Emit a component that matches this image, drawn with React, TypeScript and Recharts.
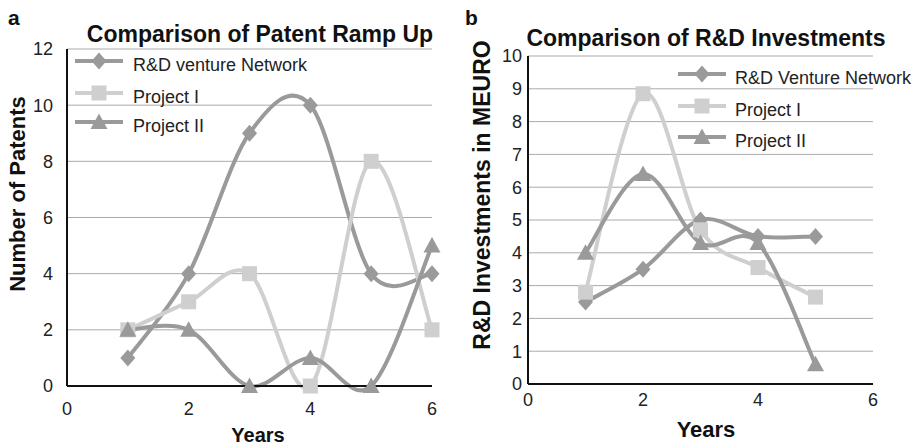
import React from 'react';
import { LineChart, Line, XAxis, YAxis, CartesianGrid } from 'recharts';

// values
const patentYears = [1, 2, 3, 4, 5, 6];
const patentNetwork = [1, 4, 9, 10, 4, 4];
const patentProject1 = [2, 3, 4, 0, 8, 2];
const patentProject2 = [2, 2, 0, 1, 0, 5];

const investYears = [1, 2, 3, 4, 5];
const investNetwork = [2.5, 3.5, 5, 4.5, 4.5];
const investProject1 = [2.8, 8.85, 4.7, 3.55, 2.65];
const investProject2 = [4, 6.4, 4.3, 4.3, 0.6];

const xTicks = [0, 2, 4, 6];
const patentTicks = [0, 2, 4, 6, 8, 10, 12];
const investTicks = [0, 1, 2, 3, 4, 5, 6, 7, 8, 9, 10];

const DARK = '#9a9a9a';
const LIGHT = '#cfcfcf';
const FONT = '"Liberation Sans", Arial, Helvetica, sans-serif';

const patentData = patentYears.map((x, i) => ({ x, network: patentNetwork[i], p1: patentProject1[i], p2: patentProject2[i] }));
const investData = investYears.map((x, i) => ({ x, network: investNetwork[i], p1: investProject1[i], p2: investProject2[i] }));

// Excel-like smoothing (Catmull-Rom through the points)
function smoothCurve(context: any) {
  let pts: number[][] = [];
  return {
    areaStart() {},
    areaEnd() {},
    lineStart() { pts = []; },
    point(x: number, y: number) { pts.push([+x, +y]); },
    lineEnd() {
      const n = pts.length;
      if (!n) return;
      context.moveTo(pts[0][0], pts[0][1]);
      for (let i = 0; i < n - 1; i++) {
        const p0 = pts[Math.max(i - 1, 0)], p1 = pts[i], p2 = pts[i + 1], p3 = pts[Math.min(i + 2, n - 1)];
        context.bezierCurveTo(
          p1[0] + (p2[0] - p0[0]) / 6, p1[1] + (p2[1] - p0[1]) / 6,
          p2[0] - (p3[0] - p1[0]) / 6, p2[1] - (p3[1] - p1[1]) / 6,
          p2[0], p2[1]
        );
      }
    },
  };
}

const Diamond = ({ cx, cy }: any) => <polygon points={`${cx},${cy - 8.5} ${cx + 7.5},${cy} ${cx},${cy + 8.5} ${cx - 7.5},${cy}`} fill={DARK} />;
const Square = ({ cx, cy }: any) => <rect x={cx - 7.5} y={cy - 7.5} width={15} height={15} fill={LIGHT} />;
const Triangle = ({ cx, cy }: any) => <polygon points={`${cx},${cy - 8.5} ${cx + 8.5},${cy + 7} ${cx - 8.5},${cy + 7}`} fill={DARK} />;

const markers = [Diamond, Square, Triangle];
const colors = [DARK, LIGHT, DARK];

function LegendBox({ x, text, rows, names }: { x: number; text: number; rows: number[]; names: string[] }) {
  return (
    <g>
      {names.map((name, i) => {
        const M = markers[i];
        const cy = rows[i];
        return (
          <g key={name}>
            <line x1={x} x2={x + 48} y1={cy} y2={cy} stroke={colors[i]} strokeWidth={4} />
            <M cx={x + 24} cy={cy} />
            <text x={text} y={cy + 9.5} fontSize={18} fill="#222">{name}</text>
          </g>
        );
      })}
    </g>
  );
}

function Series() {
  return [
    <Line key="n" dataKey="network" type={smoothCurve as any} stroke={DARK} strokeWidth={4} isAnimationActive={false} activeDot={false}
      dot={(p: any) => <Diamond key={`n${p.index}`} cx={p.cx} cy={p.cy} />} />,
    <Line key="a" dataKey="p1" type={smoothCurve as any} stroke={LIGHT} strokeWidth={4} isAnimationActive={false} activeDot={false}
      dot={(p: any) => <Square key={`a${p.index}`} cx={p.cx} cy={p.cy} />} />,
    <Line key="b" dataKey="p2" type={smoothCurve as any} stroke={DARK} strokeWidth={4} isAnimationActive={false} activeDot={false}
      dot={(p: any) => <Triangle key={`b${p.index}`} cx={p.cx} cy={p.cy} />} />,
  ];
}

const tickStyle = { fontSize: 18, fill: '#222', fontFamily: FONT };

export default function App() {
  return (
    <div style={{ position: 'absolute', left: 0, top: 0, width: 918, height: 445, background: '#fff', fontFamily: FONT }}>
      <div style={{ position: 'absolute', left: 0, top: 0 }}>
        <LineChart width={460} height={445} data={patentData} margin={{ top: 49, right: 28, bottom: 29, left: 0 }}>
          <CartesianGrid vertical={false} stroke="#aaa" />
          <XAxis type="number" dataKey="x" domain={[0, 6]} ticks={xTicks} height={30} tickLine={false} tickSize={0} tickMargin={16}
            axisLine={{ stroke: '#111', strokeWidth: 2 }} tick={tickStyle} />
          <YAxis type="number" domain={[0, 12]} ticks={patentTicks} width={67} tickLine={false} tickSize={0} tickMargin={14}
            axisLine={{ stroke: '#111', strokeWidth: 2 }} tick={tickStyle} />
          {Series()}
        </LineChart>
      </div>
      <div style={{ position: 'absolute', left: 460, top: 0 }}>
        <LineChart width={458} height={445} data={investData} margin={{ top: 56, right: 45, bottom: 31, left: 0 }}>
          <CartesianGrid vertical={false} stroke="#aaa" />
          <XAxis type="number" dataKey="x" domain={[0, 6]} ticks={xTicks} height={30} tickLine={false} tickSize={0} tickMargin={9}
            axisLine={{ stroke: '#111', strokeWidth: 2 }} tick={tickStyle} />
          <YAxis type="number" domain={[0, 10]} ticks={investTicks} width={68} tickLine={false} tickSize={0} tickMargin={6}
            axisLine={{ stroke: '#111', strokeWidth: 2 }} tick={tickStyle} />
          {Series()}
        </LineChart>
      </div>
      <svg width={918} height={445} style={{ position: 'absolute', left: 0, top: 0, pointerEvents: 'none' }} fontFamily={FONT}>
        <text x={8} y={25} fontSize={21} fontWeight="bold" fill="#111">a</text>
        <text x={465} y={25} fontSize={21} fontWeight="bold" fill="#111">b</text>
        <text x={260} y={42} fontSize={23} fontWeight="bold" fill="#111" textAnchor="middle">Comparison of Patent Ramp Up</text>
        <text x={706} y={46} fontSize={23} fontWeight="bold" fill="#111" textAnchor="middle">Comparison of R&amp;D Investments</text>
        <text transform="translate(25,194) rotate(-90)" fontSize={22} fontWeight="bold" fill="#111" textAnchor="middle">Number of Patents</text>
        <text transform="translate(490,195) rotate(-90)" fontSize={23} fontWeight="bold" fill="#111" textAnchor="middle">R&amp;D Investments in MEURO</text>
        <text x={258} y={442} fontSize={20} fontWeight="bold" fill="#111" textAnchor="middle">Years</text>
        <text x={706} y={437} fontSize={22} fontWeight="bold" fill="#111" textAnchor="middle">Years</text>
        <LegendBox x={75} text={133} rows={[61, 93, 122]} names={['R&D venture Network', 'Project I', 'Project II']} />
        <LegendBox x={678} text={735} rows={[74, 106, 137]} names={['R&D Venture Network', 'Project I', 'Project II']} />
      </svg>
    </div>
  );
}
